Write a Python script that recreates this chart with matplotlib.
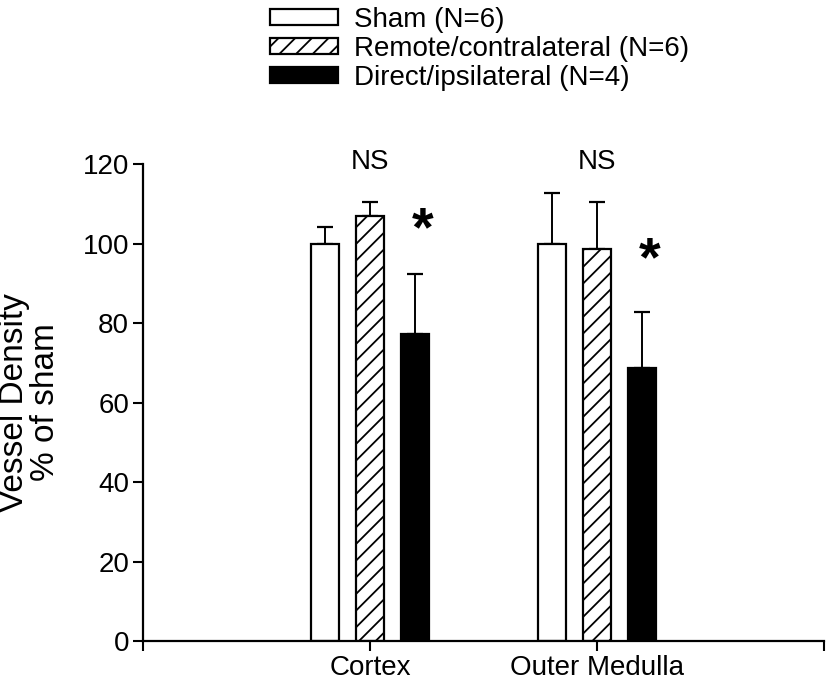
import matplotlib.pyplot as plt
import numpy as np
from matplotlib.patches import Patch

plt.rcParams['font.family'] = ['Liberation Sans', 'DejaVu Sans']
plt.rcParams['hatch.linewidth'] = 1.3

regions = ['Cortex', 'Outer Medulla']
groups = ['Sham (N=6)', 'Remote/contralateral (N=6)', 'Direct/ipsilateral (N=4)']
sham = [100.0, 100.0]
sham_err = [4.1, 12.6]
remote = [106.9, 98.7]
remote_err = [3.5, 11.7]
direct = [77.2, 68.6]
direct_err = [15.1, 14.1]
top_marks = ['NS', 'NS']
star_marks = ['*', '*']

fig = plt.figure(figsize=(8.29, 6.82), dpi=100)
ax = fig.add_axes([0.1725, 0.06, 0.8215, 0.6995])

x = np.array([1, 2])
w = 0.123
step = 0.2
faces = ['white', 'white', 'black']
hatches = ['', '//', '']
vals = [sham, remote, direct]
errs = [sham_err, remote_err, direct_err]

for k in range(3):
    xs = x + (k - 1) * step
    ax.bar(xs, vals[k], w, color=faces[k], edgecolor='black', linewidth=1.6,
           hatch=hatches[k], zorder=2)
    ax.errorbar(xs, vals[k], yerr=[np.zeros(2), errs[k]], fmt='none',
                ecolor='black', elinewidth=1.4, capsize=5.5, capthick=1.6, zorder=1)

for i in range(2):
    ax.text(x[i], 120.5, top_marks[i], ha='center', va='center', fontsize=20)
    ax.text(x[i] + 0.23, 103 - i * 7.5, star_marks[i], ha='center', va='center',
            fontsize=40, fontweight='bold')

ax.set_xlim(0, 3)
ax.set_ylim(0, 120)
ax.set_xticks([0, 1, 2, 3])
ax.set_xticklabels(['', regions[0], regions[1], ''], fontsize=20)
ax.set_yticks(range(0, 121, 20))
ax.tick_params(axis='y', labelsize=20, length=7, width=1.5, direction='out', pad=3)
ax.tick_params(axis='x', length=7, width=1.5, direction='out', pad=3)
ax.spines['top'].set_visible(False)
ax.spines['right'].set_visible(False)
ax.spines['left'].set_linewidth(1.6)
ax.spines['bottom'].set_linewidth(1.6)
ax.set_ylabel('Vessel Density\n% of sham', fontsize=24, linespacing=1.0)
ax.yaxis.set_label_coords(-0.12, 0.5)

handles = [Patch(facecolor=faces[k], edgecolor='black', linewidth=1.6, hatch=hatches[k])
           for k in range(3)]
fig.legend(handles, groups, loc='upper left', bbox_to_anchor=(0.295, 1.027),
           frameon=False, fontsize=20, handlelength=2.45, handleheight=0.5,
           handletextpad=0.6, labelspacing=0.12)

fig.savefig('out.png', dpi=100)
